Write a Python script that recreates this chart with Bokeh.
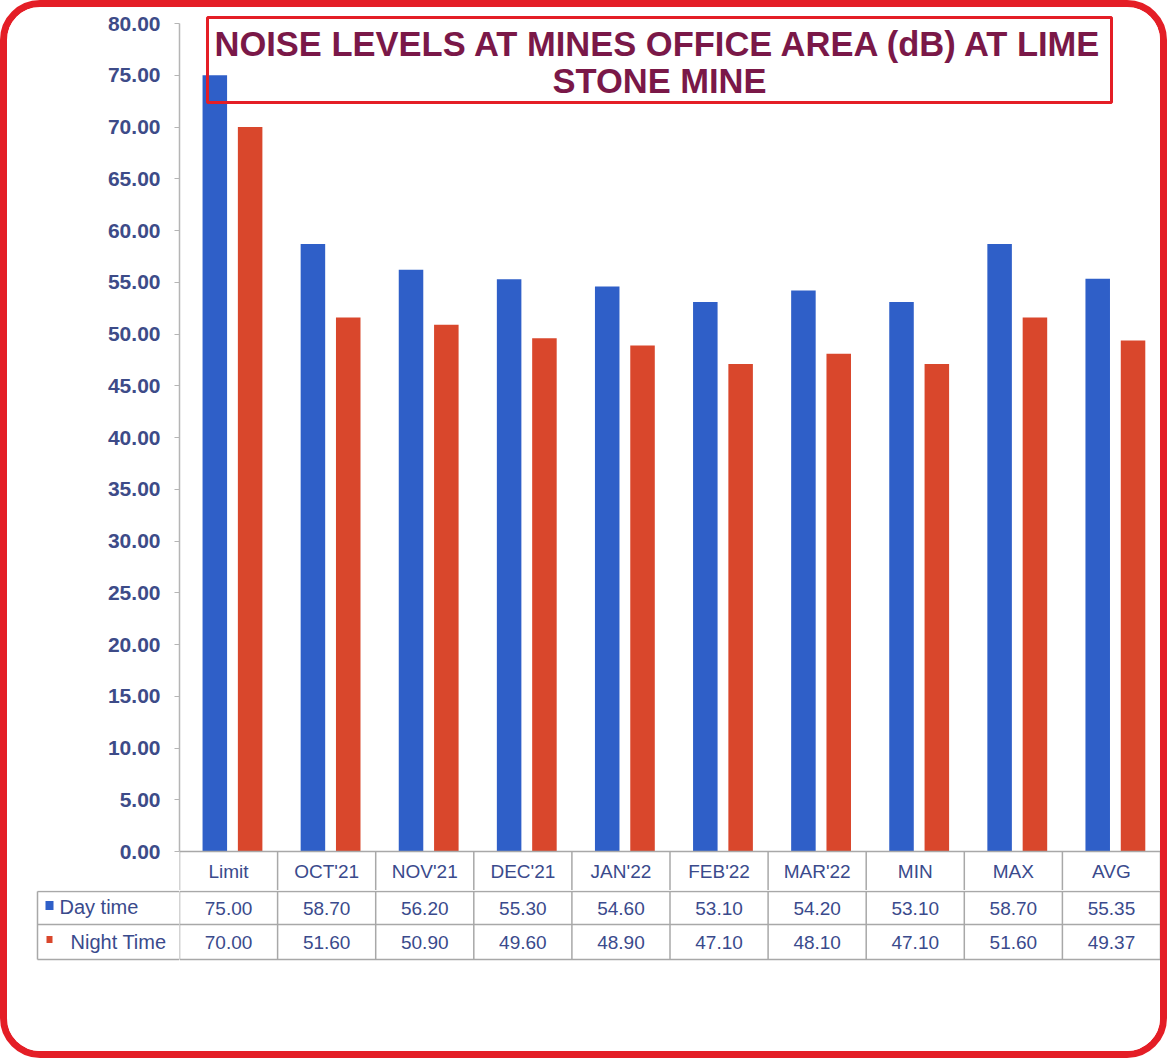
from bokeh.plotting import figure
from bokeh.layouts import column, row
from bokeh.models import (FactorRange, Range1d, ColumnDataSource, SingleIntervalTicker,
                          NumeralTickFormatter, BoxAnnotation, Label)
from bokeh.transform import dodge
from bokeh.core.properties import value
from bokeh.embed import file_html
from bokeh.resources import INLINE

# ---------------- data ----------------
categories = ["Limit", "OCT'21", "NOV'21", "DEC'21", "JAN'22", "FEB'22", "MAR'22", "MIN", "MAX", "AVG"]
day_time = [75.00, 58.70, 56.20, 55.30, 54.60, 53.10, 54.20, 53.10, 58.70, 55.35]
night_time = [70.00, 51.60, 50.90, 49.60, 48.90, 47.10, 48.10, 47.10, 51.60, 49.37]
series_names = ["Day time", "Night Time"]
y_max = 80
y_step = 5
title_lines = ["NOISE LEVELS AT MINES OFFICE AREA (dB) AT LIME", "STONE MINE"]

# ---------------- styling / layout ----------------
BORDER = 7
WC = 1153                         # total width (red frame drawn inside)
HC = 1044
ML = 172                          # left margin of chart (axis at page x ~180)
FW = WC - ML
TOP_H = 883                       # chart incl. category header row
BOT_H = HC - TOP_H                # data table rows
PX = 10.35                        # pixels per dB
Y_END = y_max + 16 / PX
Y_START = -39 / PX

BLUE = "#2f5fc8"
RED = "#d9472c"
TXT = "#3a4a8c"
GRID = "#a8a8a8"
BORDER_RED = "#e41e26"
TITLE_COL = "#7a1848"
FONT = "Liberation Sans"
TFS = "19px"

def clean(fig):
    fig.outline_line_color = None
    fig.xgrid.visible = False
    fig.ygrid.visible = False
    fig.background_fill_color = "white"
    fig.border_fill_color = "white"

src = ColumnDataSource(dict(cat=categories, day=day_time, night=night_time,
                            day_s=[f"{v:.2f}" for v in day_time],
                            night_s=[f"{v:.2f}" for v in night_time]))
n = len(categories)

# ---------------- main chart ----------------
p = figure(width=WC, height=TOP_H, x_range=FactorRange(*categories, range_padding=0),
           y_range=Range1d(Y_START, Y_END), output_backend="svg", toolbar_location=None,
           x_axis_location=None, min_border_left=ML, min_border_right=0,
           min_border_top=0, min_border_bottom=0, tools="")
clean(p)

ax = p.yaxis[0]
ax.bounds = (0, y_max)
ax.ticker = SingleIntervalTicker(interval=y_step, num_minor_ticks=0)
ax.formatter = NumeralTickFormatter(format="0.00")
ax.axis_line_color = "#b5b5b5"
ax.axis_line_width = 1.5
ax.major_tick_line_color = "#b5b5b5"
ax.major_tick_out = 5
ax.major_tick_in = 0
ax.minor_tick_line_color = None
ax.major_label_text_font = FONT
ax.major_label_text_font_style = "bold"
ax.major_label_text_font_size = "21px"
ax.major_label_text_color = "#3d4b88"
ax.major_label_standoff = 14

p.vbar(x=dodge("cat", -0.14, range=p.x_range), top="day", width=0.25, source=src,
       fill_color=BLUE, line_color=None)
p.vbar(x=dodge("cat", 0.22, range=p.x_range), top="night", width=0.25, source=src,
       fill_color=RED, line_color=None)

# category header row
p.segment(x0=[0], x1=[n], y0=[0], y1=[0], line_color=GRID, line_width=1.5)
p.segment(x0=list(range(n + 1)), x1=list(range(n + 1)), y0=[0] * (n + 1),
          y1=[Y_START] * (n + 1), line_color=GRID, line_width=1.5)
p.text(x="cat", y=Y_START / 2, text="cat", source=src, text_align="center",
       text_baseline="middle", text_font=value(FONT), text_font_size=TFS, text_color=TXT)

# title box
cw = FW / n
bx0, bx1 = (208 - 180) / cw, (1112 - 180) / cw
p.add_layout(BoxAnnotation(left=bx0, right=bx1, top=y_max + 6 / PX, bottom=y_max - 79 / PX,
                           fill_color=None, line_color=BORDER_RED, line_alpha=1, line_width=3))
for i, t in enumerate(title_lines):
    p.add_layout(Label(x=(bx0 + bx1) / 2, y=y_max - (20 + 37 * i) / PX, text=t,
                       text_font=FONT, text_font_style="bold",
                       text_font_size="34.5px", text_color=TITLE_COL,
                       text_align="center", text_baseline="middle"))

# ---------------- data table rows ----------------
ROWS = [0, -33, -68]     # row boundaries in px below the header row
t = figure(width=FW, height=BOT_H, x_range=p.x_range, y_range=Range1d(-(BOT_H - 1), 1),
           output_backend="svg", toolbar_location=None, x_axis_location=None,
           y_axis_location=None, min_border=0, tools="")
clean(t)
t.segment(x0=[0] * 3, x1=[n] * 3, y0=ROWS, y1=ROWS, line_color=GRID, line_width=1.5)
t.segment(x0=list(range(n + 1)), x1=list(range(n + 1)), y0=[0] * (n + 1),
          y1=[ROWS[-1]] * (n + 1), line_color=GRID, line_width=1.5)
common = dict(text_align="center", text_baseline="middle", text_font=value(FONT),
              text_font_size=TFS, text_color=TXT, source=src)
t.text(x="cat", y=(ROWS[0] + ROWS[1]) / 2, text="day_s", **common)
t.text(x="cat", y=(ROWS[1] + ROWS[2]) / 2, text="night_s", **common)

# ---------------- legend / row label column ----------------
lg = figure(width=ML, height=BOT_H, x_range=Range1d(0, ML), y_range=Range1d(-(BOT_H - 1), 1),
            output_backend="svg", toolbar_location=None, x_axis_location=None,
            y_axis_location=None, min_border=0, tools="")
clean(lg)
LX0 = 30
lg.segment(x0=[LX0] * 3, x1=[ML] * 3, y0=ROWS, y1=ROWS, line_color=GRID, line_width=1.5)
lg.segment(x0=[LX0], x1=[LX0], y0=[ROWS[0]], y1=[ROWS[-1]], line_color=GRID, line_width=1.5)
lg.rect(x=[42, 42], y=[-14, -48], width=[8, 6], height=[9, 7], fill_color=[BLUE, RED],
        line_color=None)
lg.text(x=[52, 63], y=[-15, -50], text=series_names, text_align="left", text_baseline="middle",
        text_font=value(FONT), text_font_size="20px", text_color=TXT)

layout = column(p, row(lg, t),
                styles={"border": f"{BORDER}px solid {BORDER_RED}", "border-radius": "40px",
                        "overflow": "hidden", "background": "white"})

open("out.html", "w").write(file_html(layout, INLINE))
